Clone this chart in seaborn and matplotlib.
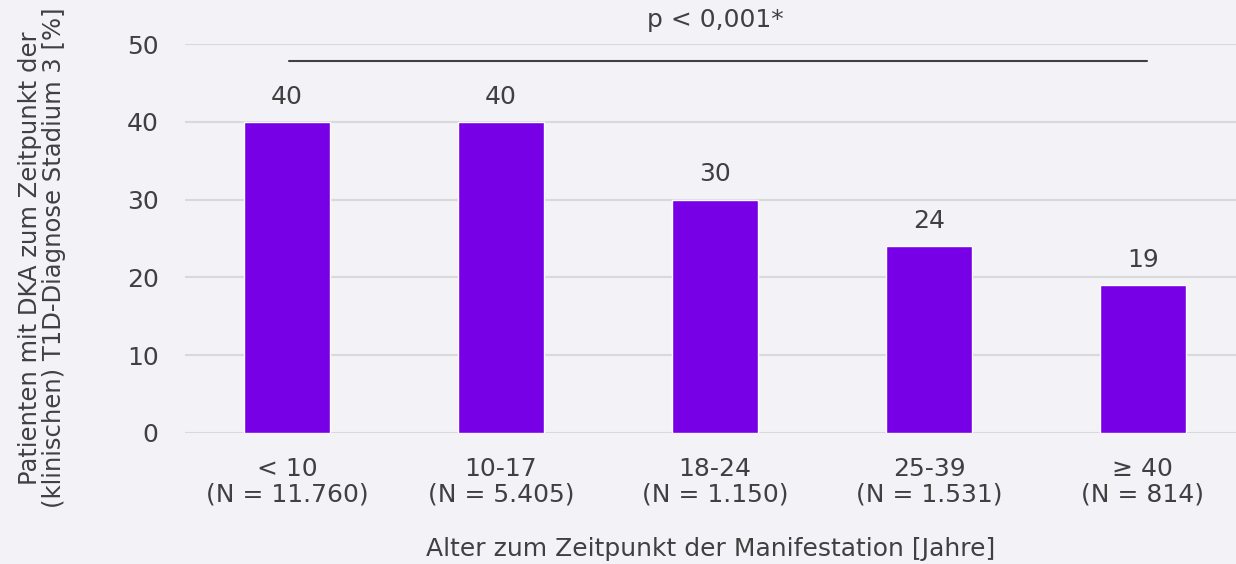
import matplotlib
matplotlib.use("Agg")
import matplotlib.pyplot as plt
import seaborn as sns
import pandas as pd

# Age groups at manifestation and share of patients with DKA
age_groups = ["< 10", "10-17", "18-24", "25-39", "≥ 40"]
group_sizes = ["11.760", "5.405", "1.150", "1.531", "814"]
dka_percent = [40, 40, 30, 24, 19]
y_ticks = [0, 10, 20, 30, 40, 50]
p_label = "p < 0,001*"

bg = "#f3f2f7"
bar_color = "#7800e6"
text_color = "#404040"
grid_color = "#d9d9d9"
fs = 18

sns.set_theme(style="white")
plt.rcParams["font.family"] = ["DejaVu Sans"]

tick_labels = [f"{g}\n(N = {n})" for g, n in zip(age_groups, group_sizes)]
df = pd.DataFrame({"group": tick_labels, "value": dka_percent})

fig = plt.figure(figsize=(12.36, 5.64), dpi=100, facecolor=bg)
ax = fig.add_axes([185 / 1236, 1 - 433 / 564, 1 - 185 / 1236, 389 / 564])
ax.set_facecolor(bg)

sns.barplot(data=df, x="group", y="value", color=bar_color, width=0.4,
            saturation=1, ax=ax, zorder=3)

ax.set_ylim(0, 50)
ax.set_xlim(-0.477, 4.435)
ax.set_yticks(y_ticks)
ax.yaxis.grid(True, color=grid_color, linewidth=1.5, zorder=0)
ax.set_axisbelow(True)
for s in ax.spines.values():
    s.set_visible(False)
ax.tick_params(axis="both", length=0, labelsize=fs, colors=text_color)
ax.tick_params(axis="y", pad=19)
ax.tick_params(axis="x", pad=17)
for lbl in ax.get_xticklabels():
    lbl.set_linespacing(1.1)

for i, v in enumerate(dka_percent):
    ax.text(i, v + 1.7, f"{v}", ha="center", va="bottom", fontsize=fs,
            color=text_color)

# Significance bracket across all groups
ax.plot([0.01, 4.02], [47.8, 47.8], color="#404040", linewidth=1.5,
        clip_on=False, zorder=4)
ax.text(2.0, 53.1, p_label, ha="center", va="center", fontsize=fs,
        color=text_color, clip_on=False)

ax.set_xlabel("Alter zum Zeitpunkt der Manifestation [Jahre]", fontsize=fs,
              color=text_color, labelpad=22)
ax.set_ylabel("Patienten mit DKA zum Zeitpunkt der\n(klinischen) T1D-Diagnose Stadium 3 [%]",
              fontsize=17.5, color=text_color, labelpad=44, linespacing=1.0)
ax.yaxis.label.set_y(0.45)

fig.savefig("out.png", dpi=100, facecolor=bg)
